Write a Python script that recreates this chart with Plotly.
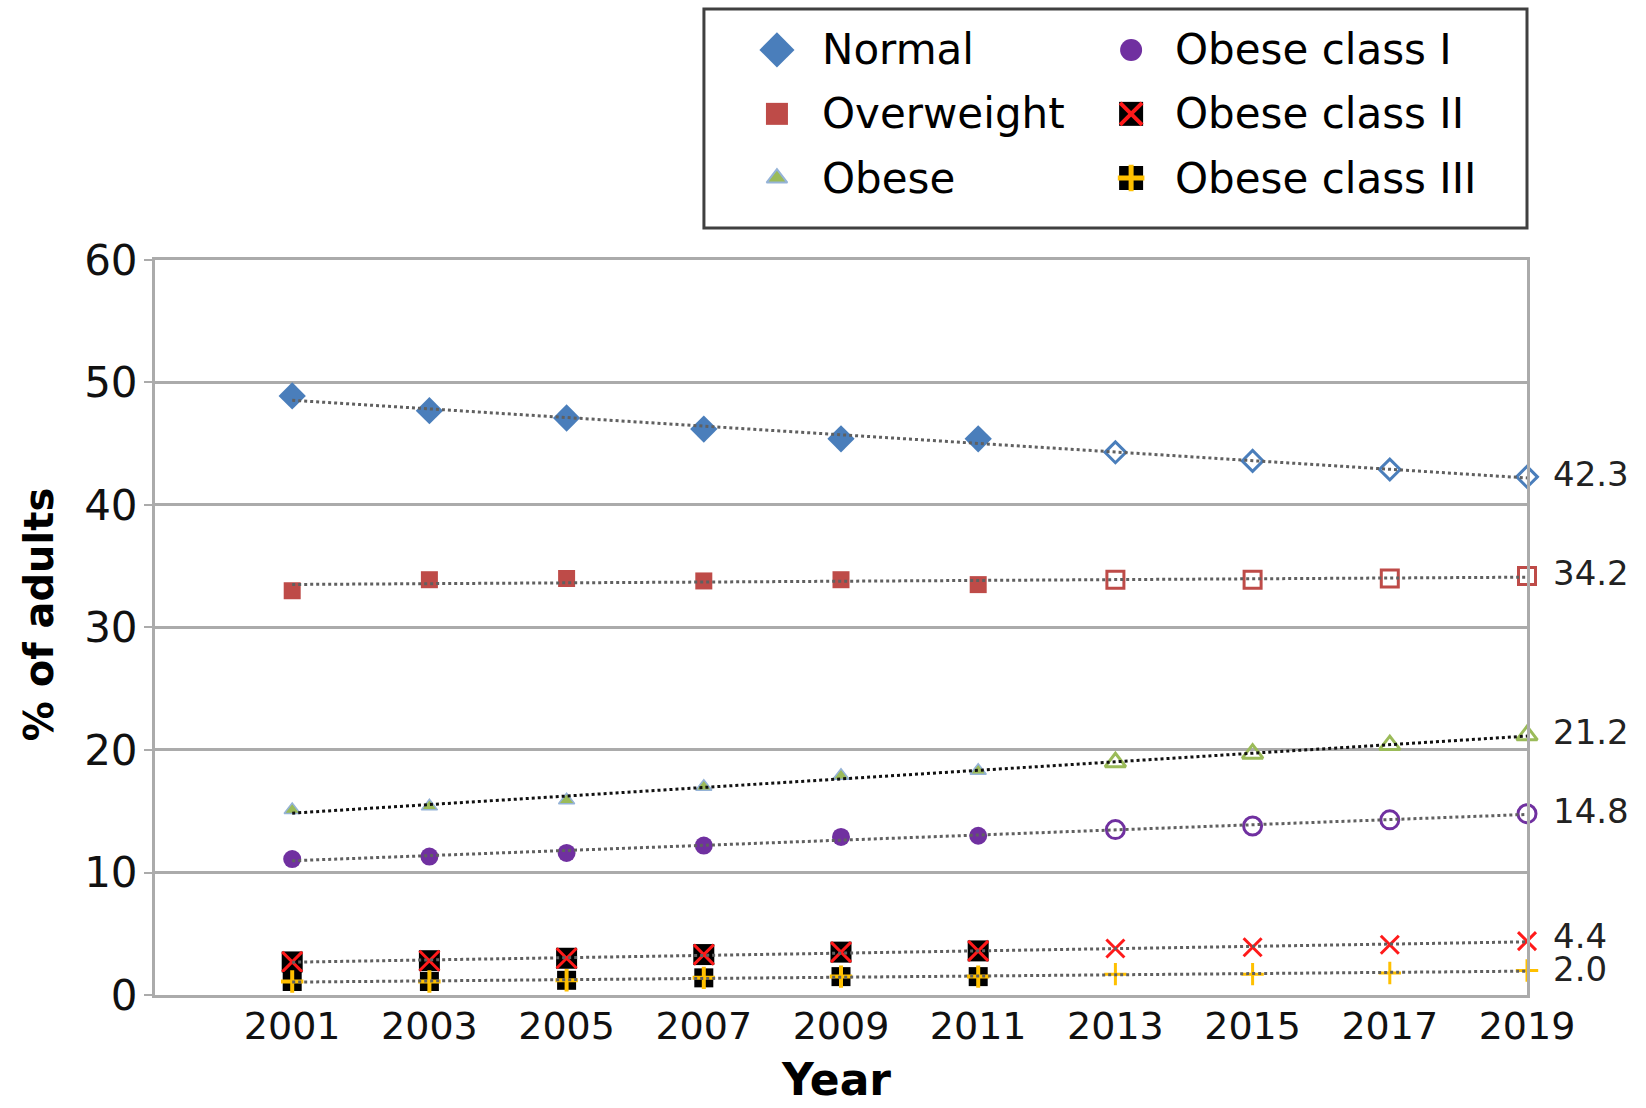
import numpy as np
import plotly.graph_objects as go

# Survey years (2001-2011 measured, 2013-2019 projected)
years = [2001, 2003, 2005, 2007, 2009, 2011, 2013, 2015, 2017, 2019]
n_observed = 6

normal = [48.9, 47.7, 47.1, 46.2, 45.4, 45.4, 44.3, 43.6, 42.9, 42.3]
overweight = [33.0, 33.9, 34.0, 33.8, 33.9, 33.5, 33.9, 33.9, 34.0, 34.2]
obese = [15.1, 15.4, 15.9, 17.0, 17.9, 18.3, 19.0, 19.7, 20.4, 21.2]
obese_1 = [11.1, 11.3, 11.6, 12.2, 12.9, 13.0, 13.5, 13.8, 14.3, 14.8]
obese_2 = [2.7, 2.8, 3.0, 3.3, 3.5, 3.6, 3.8, 3.9, 4.1, 4.4]
obese_3 = [1.1, 1.1, 1.2, 1.4, 1.5, 1.5, 1.7, 1.7, 1.8, 2.0]

y_ticks = [0, 10, 20, 30, 40, 50, 60]

FONT = "DejaVu Sans"
BLUE = "#4A7EBB"
RED = "#BE4B48"
GREEN = "#9BBB59"
LIGHTBLUE = "#95B3D7"
PURPLE = "#7030A0"
BRIGHT_RED = "#FF1A1A"
YELLOW = "#FFC000"
GRID = "#ababab"
TREND = dict(color="#606060", width=3, dash="dot")

series = [
    dict(name="Normal", values=normal,
         obs=[dict(symbol="diamond", size=21, color=BLUE)],
         proj=dict(symbol="diamond-open", size=16, color=BLUE, width=3),
         line=TREND, label_shift=3),
    dict(name="Overweight", values=overweight,
         obs=[dict(symbol="square", size=17, color=RED)],
         proj=dict(symbol="square-open", size=17, color=RED, width=3),
         line=TREND, label_shift=3),
    dict(name="Obese", values=obese,
         obs=[dict(symbol="triangle-up", size=14, color=GREEN,
                   line=dict(color=LIGHTBLUE, width=1.5))],
         proj=dict(symbol="triangle-up-open", size=18, color=GREEN, width=3),
         line=dict(color="#111111", width=3, dash="3px,3px"), label_shift=3),
    dict(name="Obese class I", values=obese_1,
         obs=[dict(symbol="circle", size=18, color=PURPLE)],
         proj=dict(symbol="circle-open", size=18, color=PURPLE, width=3),
         line=TREND, label_shift=3),
    dict(name="Obese class II", values=obese_2,
         obs=[dict(symbol="square", size=21, color="black"),
              dict(symbol="x-thin", size=20, color=BRIGHT_RED,
                   line=dict(color=BRIGHT_RED, width=3))],
         proj=dict(symbol="x-thin", size=18, color=BRIGHT_RED, width=3),
         line=TREND, label_shift=5),
    dict(name="Obese class III", values=obese_3,
         obs=[dict(symbol="square", size=19, color="black"),
              dict(symbol="cross-thin", size=16, color=YELLOW,
                   line=dict(color=YELLOW, width=4))],
         proj=dict(symbol="cross-thin", size=16, color=YELLOW, width=3),
         line=TREND, label_shift=2),
]

fig = go.Figure()

obs_x = years[:n_observed]
proj_x = years[n_observed:]

for s in series:
    vals = s["values"]
    # measured points: filled markers (some built from two stacked symbols)
    for m in s["obs"]:
        mk = dict(symbol=m["symbol"], size=m["size"], color=m["color"])
        mk["line"] = m.get("line", dict(width=0))
        fig.add_trace(go.Scatter(x=obs_x, y=vals[:n_observed], mode="markers",
                                 marker=mk, cliponaxis=False, showlegend=False,
                                 name=s["name"]))
    # projected points: open markers
    p = s["proj"]
    fig.add_trace(go.Scatter(
        x=proj_x, y=vals[n_observed:], mode="markers", cliponaxis=False,
        showlegend=False, name=s["name"],
        marker=dict(symbol=p["symbol"], size=p["size"], color=p["color"],
                    line=dict(color=p["color"], width=p["width"]))))

# linear trend lines drawn over the markers
for s in series:
    coef = np.polyfit(years, s["values"], 1)
    ends = [years[0], years[-1]]
    fig.add_trace(go.Scatter(x=ends, y=np.polyval(coef, ends), mode="lines",
                             line=s["line"], showlegend=False,
                             cliponaxis=False, hoverinfo="skip"))

# end-of-series value labels
annotations = []
for s in series:
    v = s["values"][-1]
    annotations.append(dict(
        x=years[-1], y=v, xref="x", yref="y", text=f"{v:.1f}",
        xanchor="left", yanchor="middle", xshift=24, yshift=s["label_shift"],
        showarrow=False, font=dict(family=FONT, size=34, color="#222222")))

# axis titles
annotations.append(dict(
    text="% of adults", xref="x domain", yref="y domain", x=-0.0845, y=0.518,
    textangle=-90, xanchor="center", yanchor="middle", showarrow=False,
    font=dict(family=FONT, size=40, color="black", weight="bold")))
annotations.append(dict(
    text="Year", xref="x domain", yref="y domain", x=0.496, y=-0.115,
    xanchor="center", yanchor="middle", showarrow=False,
    font=dict(family=FONT, size=44, color="black", weight="bold")))

# legend: two columns of three entries inside a framed box
legend_cols = [0.0887, 0.519]
legend_text_cols = [0.141, 0.570]
legend_rows = [0.813, 0.521, 0.228]
legend_marks = [
    [dict(symbol="diamond", size=27, color=BLUE)],
    [dict(symbol="square", size=22, color=RED)],
    [dict(symbol="triangle-up", size=18, color=GREEN,
          line=dict(color=LIGHTBLUE, width=2))],
    [dict(symbol="circle", size=22, color=PURPLE)],
    [dict(symbol="square", size=24, color="black"),
     dict(symbol="x-thin", size=22, color=BRIGHT_RED,
          line=dict(color=BRIGHT_RED, width=4))],
    [dict(symbol="square", size=24, color="black"),
     dict(symbol="cross-thin", size=19, color=YELLOW,
          line=dict(color=YELLOW, width=5))],
]
for i, s in enumerate(series):
    col, row = divmod(i, 3)
    for m in legend_marks[i]:
        mk = dict(symbol=m["symbol"], size=m["size"], color=m["color"])
        mk["line"] = m.get("line", dict(width=0))
        fig.add_trace(go.Scatter(x=[legend_cols[col]], y=[legend_rows[row]],
                                 xaxis="x2", yaxis="y2", mode="markers",
                                 marker=mk, showlegend=False, hoverinfo="skip",
                                 cliponaxis=False))
    annotations.append(dict(
        text=s["name"], xref="x2", yref="y2", x=legend_text_cols[col],
        y=legend_rows[row], xanchor="left", yanchor="middle", showarrow=False,
        font=dict(family=FONT, size=42, color="black")))

fig.update_layout(
    width=1646, height=1108,
    margin=dict(l=155, r=119, t=0, b=113, autoexpand=False),
    plot_bgcolor="white", paper_bgcolor="white",
    showlegend=False,
    annotations=annotations,
    shapes=[dict(type="rect", xref="x2 domain", yref="y2 domain",
                 x0=0, x1=1, y0=0, y1=1,
                 line=dict(color="#404040", width=3))],
    xaxis=dict(
        range=[1999, 2019], domain=[0, 1], anchor="y", automargin=False,
        tickvals=years, ticktext=[str(y) for y in years],
        showgrid=False, zeroline=False,
        showline=True, linecolor=GRID, linewidth=3, mirror=True,
        ticks="", ticklabelstandoff=-5,
        tickfont=dict(family=FONT, size=38, color="#111111")),
    yaxis=dict(
        range=[0, 60], domain=[0, 0.7387], anchor="x", automargin=False,
        tickvals=y_ticks, ticktext=[str(t) for t in y_ticks],
        showgrid=True, gridcolor=GRID, gridwidth=3, zeroline=False,
        showline=True, linecolor=GRID, linewidth=3, mirror=True,
        ticks="outside", ticklen=8, tickwidth=2, tickcolor=GRID,
        ticklabelstandoff=-2,
        tickfont=dict(family=FONT, size=42, color="#111111")),
    xaxis2=dict(domain=[0.4001, 1.0], anchor="y2", range=[0, 1],
                visible=False, fixedrange=True, automargin=False),
    yaxis2=dict(domain=[0.7709, 0.991], anchor="x2", range=[0, 1],
                visible=False, fixedrange=True, automargin=False),
)

fig.write_html("out.html")
